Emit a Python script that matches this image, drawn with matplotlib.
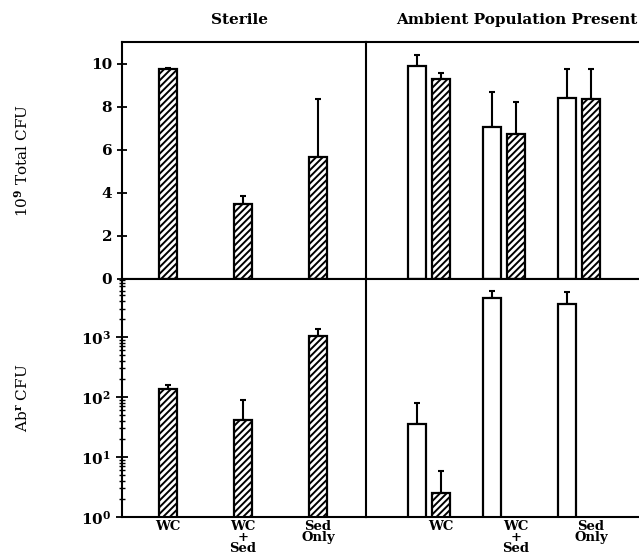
import numpy as np
import matplotlib.pyplot as plt

plt.rcParams['font.family'] = ['DejaVu Serif']
plt.rcParams['font.weight'] = 'bold'
plt.rcParams['mathtext.fontset'] = 'dejavuserif'
plt.rcParams['mathtext.default'] = 'bf'
plt.rcParams['hatch.linewidth'] = 1.4

# 数据
groups = ['WC', 'WC\n+\nSed', 'Sed\nOnly']

sterile_total = [9.75, 3.47, 5.66]
sterile_total_err = [0.05, 0.38, 2.71]
ambient_open_total = [9.89, 7.04, 8.39]
ambient_open_total_err = [0.51, 1.63, 1.36]
ambient_hatch_total = [9.27, 6.73, 8.34]
ambient_hatch_total_err = [0.31, 1.47, 1.40]

sterile_abr = [134, 42, 1040]
sterile_abr_err = [23, 46, 340]
ambient_open_abr = [36, 4540, 3640]
ambient_open_abr_err = [45, 1320, 1920]
ambient_hatch_abr = [2.5, None, None]
ambient_hatch_abr_err = [3.4, None, None]

fig = plt.figure(figsize=(6.39, 5.6), dpi=100)
L, M, R = 122 / 639, 366 / 639, 1.0
T, C, B = 1 - 42 / 560, 1 - 279 / 560, 1 - 517 / 560

ax_tl = fig.add_axes([L, C, M - L, T - C])
ax_tr = fig.add_axes([M, C, R - M, T - C])
ax_bl = fig.add_axes([L, B, M - L, C - B])
ax_br = fig.add_axes([M, B, R - M, C - B])

x = np.arange(1, 4)
w_l = 0.24
w_r = 0.23
off = 0.16


def draw_bars(ax, xs, vals, errs, hatch, w):
    for xi, v, e in zip(xs, vals, errs):
        if v is None:
            continue
        ax.bar(xi, v, width=w, color='white', edgecolor='k', linewidth=1.6,
               hatch=hatch, zorder=2)
        ax.errorbar(xi, v, yerr=[[0], [e]], fmt='none', ecolor='k',
                    elinewidth=1.5, capsize=2.5, capthick=1.5, zorder=1)


draw_bars(ax_tl, x, sterile_total, sterile_total_err, '/////', w_l)
draw_bars(ax_tr, x - off, ambient_open_total, ambient_open_total_err, None, w_r)
draw_bars(ax_tr, x + off, ambient_hatch_total, ambient_hatch_total_err, '/////', w_r)
draw_bars(ax_bl, x, sterile_abr, sterile_abr_err, '/////', w_l)
draw_bars(ax_br, x - off, ambient_open_abr, ambient_open_abr_err, None, w_r)
draw_bars(ax_br, x + off, ambient_hatch_abr, ambient_hatch_abr_err, '/////', w_r)

for ax in [ax_tl, ax_bl]:
    ax.set_xlim(0.387, 3.64)
for ax in [ax_tr, ax_br]:
    ax.set_xlim(0.16, 3.8)

for ax in [ax_tl, ax_tr]:
    ax.set_ylim(0, 11)
for ax in [ax_bl, ax_br]:
    ax.set_yscale('log')
    ax.set_ylim(1, 10 ** 3.97)

for ax in [ax_tl, ax_tr, ax_bl, ax_br]:
    ax.set_xticks([])
    for s in ax.spines.values():
        s.set_linewidth(1.5)
    ax.spines['right'].set_visible(False)

for ax in [ax_tr, ax_br]:
    ax.tick_params(axis='y', which='both', left=False, labelleft=False)

ax_tl.set_yticks([0, 2, 4, 6, 8, 10])
ax_tl.tick_params(axis='y', direction='inout', length=7, width=1.3, labelsize=11)
ax_bl.set_yticks([1, 10, 100, 1000])
ax_bl.tick_params(axis='y', which='major', direction='inout', length=9, width=1.3, labelsize=11)
ax_bl.tick_params(axis='y', which='minor', direction='inout', length=5, width=1.0)

ax_tl.set_ylabel('10$^9$ Total CFU', fontsize=11)
ax_bl.set_ylabel('Ab$^r$ CFU', fontsize=11)
ax_tl.yaxis.set_label_coords(-0.375, 0.5)
ax_bl.yaxis.set_label_coords(-0.375, 0.5)

fig.text(240 / 639, 1 - 20 / 560, 'Sterile', ha='center', va='center', fontsize=11)
fig.text(517 / 639, 1 - 20 / 560, 'Ambient Population Present', ha='center', va='center', fontsize=11)

for xi, g in zip(x, groups):
    ax_bl.text(xi, -0.012, g, transform=ax_bl.get_xaxis_transform(), ha='center', va='top',
               fontsize=9.5, linespacing=0.82)
    ax_br.text(xi + off, -0.012, g, transform=ax_br.get_xaxis_transform(), ha='center', va='top',
               fontsize=9.5, linespacing=0.82)

fig.savefig('out.png', dpi=100)
